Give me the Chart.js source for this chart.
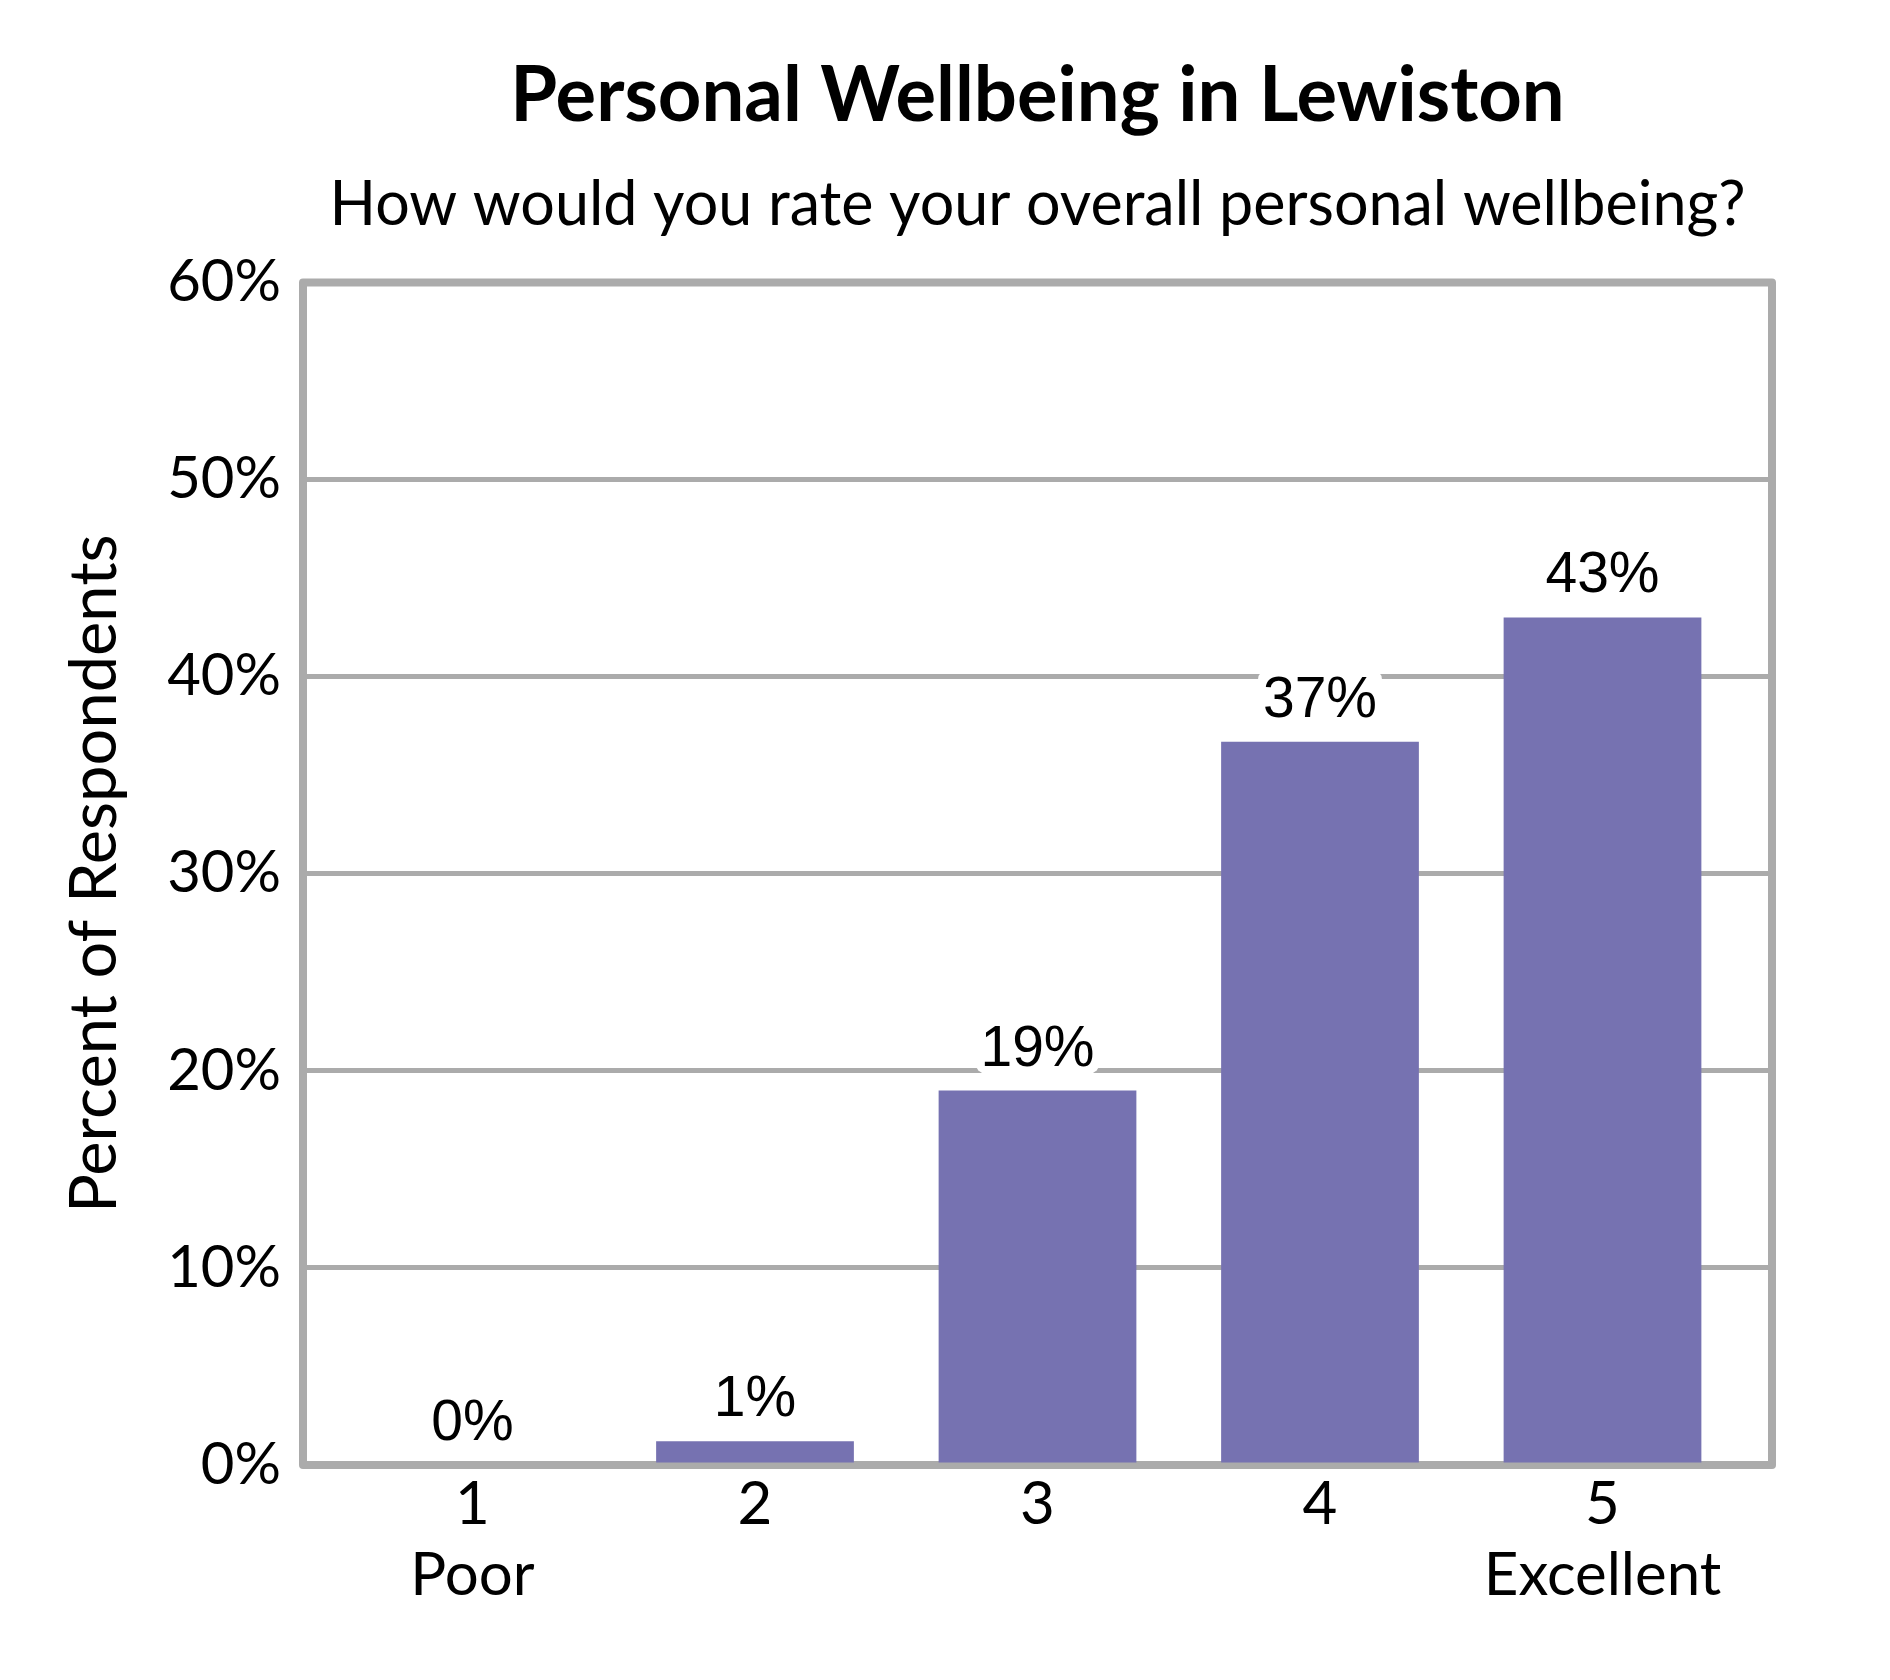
<!DOCTYPE html>
<html>
<head>
<meta charset="utf-8">
<title>Personal Wellbeing in Lewiston</title>
<script src="https://cdn.jsdelivr.net/npm/chart.js@4.4.0/dist/chart.umd.min.js"></script>
<style>
  html, body { margin: 0; padding: 0; background: #fff; }
  canvas { display: block; }
</style>
</head>
<body>
<canvas id="chartWellbeing" width="1890" height="1680"></canvas>
<script>
// --- DATA ---
const ratings = [1, 2, 3, 4, 5];
const ratingNotes = ['Poor', '', '', '', 'Excellent'];
const percentRespondents = [0, 1.2, 19.0, 36.7, 43.0];
const yTickValues = [0, 10, 20, 30, 40, 50, 60];

const BAR_COLOR = '#7672B1';
const FRAME_COLOR = '#ABABAB';

// --- PLUGINS ---
// white page
const whiteBg = {
    id: 'whiteBg',
    beforeDraw(chart) {
        const c = chart.ctx;
        c.save();
        c.fillStyle = '#fff';
        c.fillRect(0, 0, chart.width, chart.height);
        c.restore();
    }
};

// grey box round the plot area (excel style)
const plotFrame = {
    id: 'plotFrame',
    beforeDatasetsDraw(chart) {
        const a = chart.chartArea, c = chart.ctx;
        c.save();
        c.strokeStyle = FRAME_COLOR;
        c.lineWidth = 8;
        c.lineJoin = 'round';
        c.strokeRect(a.left, a.top, a.right - a.left, a.bottom - a.top);
        c.restore();
    }
};

// value above each bar, on a white rounded patch so gridlines break behind it
const barLabels = {
    id: 'barLabels',
    afterDatasetsDraw(chart) {
        const c = chart.ctx;
        const meta = chart.getDatasetMeta(0);
        c.save();
        c.font = '57px "Liberation Sans", Arial, sans-serif';
        c.textAlign = 'center';
        c.textBaseline = 'alphabetic';
        meta.data.forEach((bar, i) => {
            const txt = Math.round(percentRespondents[i]) + '%';
            const base = bar.y - 25;
            const w = c.measureText(txt).width;
            c.fillStyle = '#fff';
            c.beginPath();
            c.roundRect(bar.x - w / 2 - 5, base - 47, w + 10, 55, 10);
            c.fill();
            c.fillStyle = '#000';
            c.fillText(txt, bar.x, base);
        });
        c.restore();
    }
};

// --- CHART ---
const ctx = document.getElementById('chartWellbeing').getContext('2d');
new Chart(ctx, {
    type: 'bar',
    data: {
        datasets: [{
            label: 'Percent of Respondents',
            data: ratings.map((r, i) => ({ x: r, y: percentRespondents[i] })),
            backgroundColor: BAR_COLOR,
            borderWidth: 0,
            categoryPercentage: 1,
            barPercentage: 0.7
        }]
    },
    options: {
        responsive: false,
        devicePixelRatio: 1,
        animation: false,
        layout: { padding: { left: 0, right: 118, top: 0, bottom: 0 } },
        plugins: {
            legend: { display: false },
            tooltip: { enabled: false },
            title: {
                display: true,
                text: 'Personal Wellbeing in Lewiston',
                fullSize: false,
                color: '#000',
                font: { family: 'Lato', size: 76, weight: 'bold', lineHeight: 1.2 },
                padding: { top: 51, bottom: 0 }
            },
            subtitle: {
                display: true,
                text: 'How would you rate your overall personal wellbeing?',
                fullSize: false,
                color: '#000',
                font: { family: 'Lato', size: 61, lineHeight: 1.2 },
                padding: { top: 27, bottom: 40 }
            }
        },
        scales: {
            x: {
                type: 'linear',
                min: 0.4,
                max: 5.6,
                offset: false,
                grid: { display: false, drawTicks: false },
                border: { display: false },
                afterBuildTicks: (s) => { s.ticks = ratings.map(v => ({ value: v })); },
                afterFit: (s) => { s.height = 215; },
                ticks: {
                    autoSkip: false,
                    maxRotation: 0,
                    padding: 4,
                    color: '#000',
                    font: { family: 'Lato', size: 60, lineHeight: 1.18 },
                    callback: (v) => {
                        const note = ratingNotes[ratings.indexOf(v)];
                        return note ? [String(v), note] : String(v);
                    }
                }
            },
            y: {
                min: 0,
                max: 60,
                afterBuildTicks: (s) => { s.ticks = yTickValues.map(v => ({ value: v })); },
                afterFit: (s) => { s.width = 303; },
                grid: { color: FRAME_COLOR, lineWidth: 5, drawTicks: false },
                border: { display: false },
                ticks: {
                    padding: 22,
                    color: '#000',
                    font: { family: 'Lato', size: 58 },
                    callback: (v) => v + '%'
                },
                title: {
                    display: true,
                    text: 'Percent of Respondents',
                    color: '#000',
                    font: { family: 'Lato', size: 65, lineHeight: 1.2 },
                    padding: { top: 56, bottom: 0 }
                }
            }
        }
    },
    plugins: [whiteBg, plotFrame, barLabels]
});
</script>
</body>
</html>
